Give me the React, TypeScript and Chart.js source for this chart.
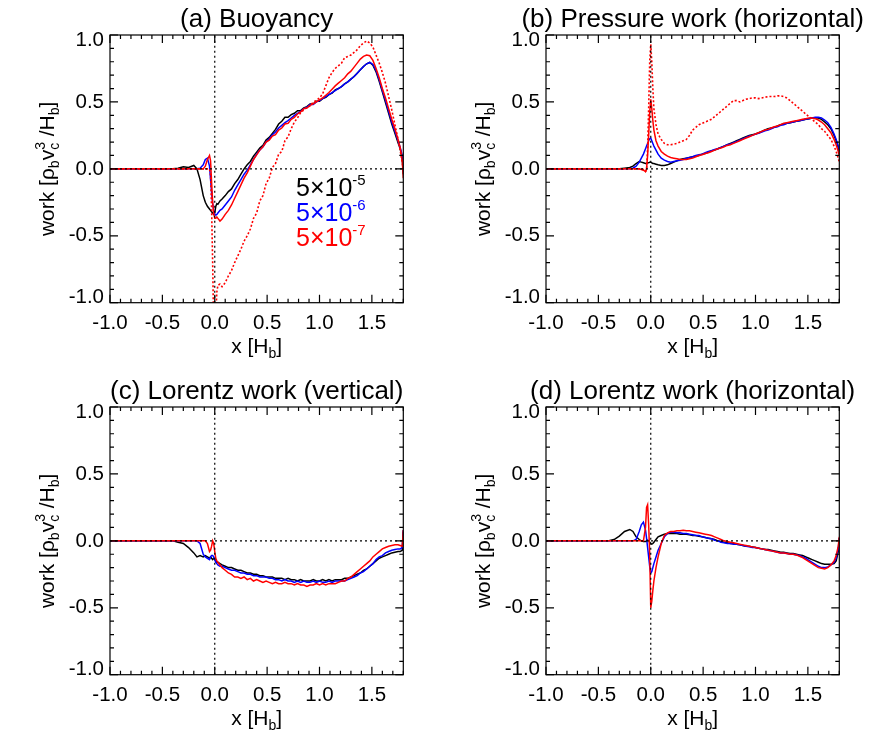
import { useEffect, useRef } from "react"
import { Chart, registerables } from "chart.js"

Chart.register(...registerables)

const FONT = '"Liberation Sans", Arial, Helvetica, sans-serif'

// x positions [H_b] shared by every curve (finer around the x = 0 features)
const xGrid = [
  -1.0, -0.5, -0.4, -0.35, -0.3, -0.25, -0.2,
  -0.17, -0.14, -0.11, -0.09, -0.07, -0.05, -0.04, -0.03, -0.02, -0.01, 0.0,
  0.01, 0.02, 0.03, 0.05, 0.07, 0.1, 0.13, 0.16, 0.19, 0.22, 0.25, 0.28,
  0.31, 0.34, 0.37, 0.4, 0.43, 0.46, 0.49, 0.52, 0.55, 0.58, 0.61, 0.64, 0.67, 0.7,
  0.73, 0.76, 0.79, 0.82, 0.85, 0.88, 0.91, 0.94, 0.97, 1.0, 1.03, 1.06, 1.09, 1.12, 1.15,
  1.18, 1.21, 1.24, 1.27, 1.3, 1.33, 1.36, 1.39, 1.42, 1.45, 1.48, 1.51, 1.54, 1.57, 1.6,
  1.63, 1.66, 1.69, 1.72, 1.75, 1.77, 1.79, 1.8,
]

const xMajor = [-1.0, -0.5, 0.0, 0.5, 1.0, 1.5]
const yMajor = [-1.0, -0.5, 0.0, 0.5, 1.0]
const refLineX = [-1.0, 1.8]
const refLineY = [-1.0, 1.0]

const titles = [
  "(a) Buoyancy",
  "(b) Pressure work (horizontal)",
  "(c) Lorentz work (vertical)",
  "(d) Lorentz work (horizontal)",
]
const legendMantissa = ["5×10", "5×10", "5×10"]
const legendExponent = ["-5", "-6", "-7"]
const seriesColors = ["#000000", "#0000ff", "#ff0000"]

// (a) buoyancy
const buoyBlack = [
  0, 0, 0, 0.005, 0.015, 0.01, 0.025,
  0.0, -0.08, -0.2, -0.25, -0.28, -0.3, -0.31, -0.32, -0.33, -0.34, -0.33,
  -0.28, -0.26, -0.265, -0.24, -0.225, -0.2, -0.17, -0.15, -0.11, -0.08, -0.04, 0.0,
  0.03, 0.055, 0.095, 0.125, 0.155, 0.175, 0.215, 0.235, 0.265, 0.295, 0.335, 0.355, 0.385, 0.385,
  0.405, 0.415, 0.435, 0.435, 0.455, 0.465, 0.485, 0.485, 0.505, 0.505, 0.525, 0.535, 0.555, 0.565, 0.59,
  0.6, 0.615, 0.635, 0.65, 0.67, 0.69, 0.715, 0.74, 0.765, 0.785, 0.795, 0.775, 0.725, 0.655, 0.575,
  0.495, 0.415, 0.335, 0.265, 0.195, 0.15, 0.08, -0.04,
]
const buoyBlue = [
  0, 0, 0, 0, 0, 0, 0,
  0, 0.005, 0.03, 0.07, 0.08, 0.02, -0.08, -0.18, -0.26, -0.31, -0.34,
  -0.345, -0.34, -0.33, -0.31, -0.3, -0.27, -0.24, -0.21, -0.16, -0.12, -0.08, -0.04,
  -0.01, 0.03, 0.07, 0.11, 0.14, 0.165, 0.2, 0.225, 0.255, 0.275, 0.305, 0.325, 0.345, 0.36,
  0.38, 0.4, 0.415, 0.43, 0.45, 0.46, 0.48, 0.48, 0.5, 0.51, 0.525, 0.54, 0.555, 0.57, 0.585,
  0.6, 0.615, 0.635, 0.65, 0.67, 0.69, 0.715, 0.74, 0.765, 0.785, 0.795, 0.78, 0.735, 0.665, 0.585,
  0.51, 0.43, 0.35, 0.28, 0.21, 0.16, 0.1, -0.02,
]
const buoyRed = [
  0, 0, 0, 0, 0, 0, 0,
  0, 0, 0, 0.02, 0.07, 0.1, 0.06, -0.1, -0.25, -0.33, -0.37,
  -0.37, -0.36, -0.37, -0.39, -0.375, -0.34, -0.31, -0.27, -0.22, -0.17, -0.12, -0.07,
  -0.03, 0.02, 0.07, 0.105, 0.14, 0.165, 0.2, 0.215, 0.245, 0.255, 0.29, 0.305, 0.335, 0.34,
  0.37, 0.385, 0.41, 0.425, 0.45, 0.455, 0.475, 0.485, 0.5, 0.515, 0.53, 0.55, 0.57, 0.595, 0.62,
  0.64, 0.66, 0.68, 0.71, 0.73, 0.76, 0.79, 0.82, 0.84, 0.85, 0.845, 0.81, 0.75, 0.68, 0.6,
  0.53, 0.45, 0.37, 0.3, 0.22, 0.16, 0.06, -0.07,
]
const buoyRedDot = [
  0, 0, 0, 0, 0, 0, 0,
  0, 0, 0, 0, 0, 0, -0.05, -0.3, -0.7, -1.2, -1.3,
  -1.1, -0.92, -0.87, -0.86, -0.88, -0.85, -0.8, -0.76, -0.7, -0.65, -0.6, -0.54,
  -0.5, -0.45, -0.37, -0.33, -0.24, -0.2, -0.11, -0.07, 0.01, 0.04, 0.11, 0.13, 0.21, 0.24,
  0.3, 0.35, 0.38, 0.42, 0.44, 0.46, 0.47, 0.5, 0.51, 0.53, 0.56, 0.62, 0.68, 0.72, 0.75,
  0.77, 0.79, 0.83, 0.84, 0.85, 0.87, 0.89, 0.92, 0.94, 0.955, 0.94, 0.91, 0.85, 0.79, 0.72,
  0.64, 0.54, 0.44, 0.33, 0.22, 0.14, 0.05, -0.02,
]

// (b) pressure work (horizontal)
const presBlack = [
  0, 0, 0, 0, 0, 0.005, 0.01,
  0.02, 0.04, 0.055, 0.05, 0.045, 0.04, 0.04, 0.045, 0.045, 0.05, 0.05,
  0.045, 0.04, 0.04, 0.035, 0.03, 0.025, 0.025, 0.03, 0.04, 0.05, 0.06, 0.07,
  0.075, 0.08, 0.085, 0.09, 0.095, 0.1, 0.11, 0.115, 0.125, 0.135, 0.14, 0.15, 0.16, 0.17,
  0.18, 0.19, 0.2, 0.21, 0.22, 0.23, 0.24, 0.25, 0.255, 0.26, 0.27, 0.28, 0.29, 0.3, 0.305,
  0.31, 0.32, 0.33, 0.335, 0.34, 0.345, 0.35, 0.355, 0.36, 0.365, 0.37, 0.375, 0.38, 0.38, 0.38,
  0.37, 0.35, 0.33, 0.3, 0.25, 0.21, 0.16, 0.13,
]
const presBlue = [
  0, 0, 0, 0, 0, 0, 0,
  0.005, 0.02, 0.05, 0.08, 0.11, 0.15, 0.17, 0.19, 0.21, 0.225, 0.23,
  0.21, 0.19, 0.17, 0.14, 0.11, 0.08, 0.065, 0.055, 0.05, 0.055, 0.06, 0.065,
  0.07, 0.08, 0.085, 0.09, 0.1, 0.105, 0.11, 0.12, 0.13, 0.135, 0.145, 0.15, 0.16, 0.17,
  0.18, 0.185, 0.195, 0.205, 0.215, 0.225, 0.235, 0.245, 0.25, 0.26, 0.265, 0.275, 0.285, 0.29, 0.3,
  0.31, 0.315, 0.325, 0.33, 0.34, 0.345, 0.35, 0.355, 0.36, 0.365, 0.37, 0.375, 0.38, 0.385, 0.385,
  0.38, 0.365, 0.345, 0.31, 0.26, 0.22, 0.17, 0.14,
]
const presRed = [
  0, 0, 0, 0, 0, 0, 0,
  0, 0, 0, -0.005, -0.01, -0.02, 0.0, 0.1, 0.25, 0.42, 0.52,
  0.45, 0.36, 0.29, 0.21, 0.17, 0.13, 0.11, 0.095, 0.085, 0.08, 0.075, 0.07,
  0.07, 0.07, 0.075, 0.08, 0.09, 0.1, 0.105, 0.115, 0.12, 0.13, 0.14, 0.15, 0.155, 0.165,
  0.175, 0.18, 0.19, 0.2, 0.21, 0.22, 0.23, 0.24, 0.25, 0.26, 0.27, 0.28, 0.29, 0.295, 0.305,
  0.315, 0.32, 0.33, 0.34, 0.345, 0.35, 0.355, 0.36, 0.365, 0.37, 0.375, 0.38, 0.38, 0.375, 0.365,
  0.35, 0.33, 0.3, 0.27, 0.22, 0.18, 0.13, 0.1,
]
const presRedDot = [
  0, 0, 0, 0, 0, 0, 0,
  0, 0, 0, 0, -0.005, -0.02, -0.01, 0.15, 0.45, 0.8, 0.93,
  0.8, 0.6, 0.45, 0.33, 0.26, 0.22, 0.19, 0.18, 0.18, 0.185, 0.19, 0.2,
  0.21, 0.22, 0.25, 0.29, 0.31, 0.33, 0.34, 0.35, 0.36, 0.37, 0.39, 0.41, 0.43, 0.45,
  0.47, 0.49, 0.51, 0.51, 0.5, 0.51, 0.52, 0.525, 0.53, 0.53, 0.525, 0.53, 0.535, 0.54, 0.54,
  0.54, 0.545, 0.545, 0.54, 0.53, 0.51, 0.49, 0.47, 0.45, 0.43, 0.41, 0.39, 0.37, 0.35, 0.33,
  0.3, 0.28, 0.25, 0.22, 0.17, 0.13, 0.08, 0.05,
]

// (c) Lorentz work (vertical)
const lorVBlack = [
  0, 0, 0, -0.01, -0.02, -0.05, -0.09,
  -0.12, -0.11, -0.12, -0.11, -0.12, -0.13, -0.12, -0.13, -0.14, -0.13, -0.14,
  -0.15, -0.16, -0.16, -0.17, -0.18, -0.19, -0.2, -0.2, -0.21, -0.22, -0.22, -0.23,
  -0.24, -0.24, -0.25, -0.25, -0.26, -0.26, -0.27, -0.27, -0.27, -0.28, -0.28, -0.28, -0.29, -0.28,
  -0.29, -0.29, -0.3, -0.29, -0.3, -0.3, -0.3, -0.29, -0.3, -0.3, -0.29, -0.3, -0.29, -0.3, -0.29,
  -0.29, -0.29, -0.28, -0.28, -0.27, -0.26, -0.25, -0.24, -0.22, -0.21, -0.19, -0.17, -0.15, -0.13, -0.12,
  -0.11, -0.1, -0.09, -0.085, -0.08, -0.08, -0.07, 0.07,
]
const lorVBlue = [
  0, 0, 0, 0, 0, 0, 0,
  0, -0.02, -0.1, -0.12, -0.13, -0.14, -0.12, -0.11, -0.11, -0.12, -0.14,
  -0.16, -0.17, -0.18, -0.19, -0.19, -0.2, -0.21, -0.22, -0.22, -0.23, -0.24, -0.24,
  -0.25, -0.25, -0.26, -0.26, -0.27, -0.27, -0.27, -0.28, -0.28, -0.29, -0.29, -0.3, -0.29, -0.3,
  -0.3, -0.31, -0.3, -0.31, -0.3, -0.31, -0.31, -0.3, -0.31, -0.3, -0.31, -0.31, -0.3, -0.31, -0.3,
  -0.3, -0.3, -0.3, -0.29, -0.28, -0.27, -0.26, -0.24, -0.23, -0.21, -0.19, -0.17, -0.14, -0.12, -0.11,
  -0.09, -0.08, -0.07, -0.065, -0.06, -0.06, -0.05, 0.08,
]
const lorVRed = [
  0, 0, 0, 0, 0, 0, 0,
  0, 0, 0, 0, -0.02, -0.08, -0.07, -0.04, 0.0, -0.02, -0.08,
  -0.13, -0.15, -0.16, -0.18, -0.2, -0.22, -0.24, -0.25, -0.27, -0.27, -0.28, -0.27,
  -0.29, -0.28, -0.3, -0.29, -0.3, -0.31, -0.3, -0.31, -0.32, -0.31, -0.32, -0.32, -0.31, -0.32,
  -0.32, -0.33, -0.32, -0.33, -0.33, -0.34, -0.33, -0.33, -0.32, -0.33, -0.32, -0.33, -0.32, -0.32, -0.32,
  -0.31, -0.3, -0.3, -0.28, -0.27, -0.25, -0.23, -0.21, -0.19, -0.17, -0.15, -0.12, -0.1, -0.08, -0.06,
  -0.05, -0.04, -0.035, -0.03, -0.03, -0.035, -0.04, 0.08,
]

// (d) Lorentz work (horizontal)
const lorHBlack = [
  0, 0, 0, 0.01, 0.035, 0.07, 0.085,
  0.07, 0.03, 0.01, 0.0, -0.005, -0.005, 0.0, 0.005, 0.0, -0.01, -0.02,
  -0.025, -0.02, -0.01, 0.01, 0.03, 0.04, 0.05, 0.055, 0.055, 0.055, 0.055, 0.05,
  0.05, 0.05, 0.045, 0.04, 0.04, 0.035, 0.03, 0.025, 0.02, 0.015, 0.01, 0.0, -0.005, -0.01,
  -0.015, -0.02, -0.02, -0.025, -0.03, -0.035, -0.04, -0.04, -0.045, -0.05, -0.055, -0.06, -0.065, -0.065, -0.07,
  -0.075, -0.08, -0.085, -0.085, -0.09, -0.095, -0.095, -0.1, -0.105, -0.11, -0.12, -0.13, -0.14, -0.15, -0.16,
  -0.17, -0.175, -0.175, -0.175, -0.17, -0.15, -0.08, 0.02,
]
const lorHBlue = [
  0, 0, 0, 0, 0, 0, 0,
  0, 0.01, 0.07, 0.12, 0.14, 0.08, 0.02, -0.05, -0.12, -0.19, -0.24,
  -0.23, -0.2, -0.17, -0.12, -0.07, -0.02, 0.03, 0.055, 0.065, 0.065, 0.06, 0.06,
  0.055, 0.055, 0.05, 0.045, 0.04, 0.04, 0.03, 0.025, 0.02, 0.015, 0.005, 0.0, -0.01, -0.015,
  -0.02, -0.02, -0.025, -0.025, -0.03, -0.035, -0.04, -0.045, -0.05, -0.05, -0.055, -0.06, -0.065, -0.07, -0.075,
  -0.08, -0.085, -0.09, -0.09, -0.095, -0.1, -0.1, -0.105, -0.11, -0.12, -0.13, -0.145, -0.16, -0.175, -0.19,
  -0.2, -0.2, -0.195, -0.18, -0.16, -0.13, -0.06, 0.02,
]
const lorHRed = [
  0, 0, 0, 0, 0, 0, 0,
  0, 0, 0, 0, 0.0, 0.1, 0.25, 0.27, 0.12, -0.1, -0.5,
  -0.45, -0.37, -0.3, -0.2, -0.12, -0.02, 0.04, 0.06, 0.07, 0.07, 0.075, 0.075,
  0.08, 0.075, 0.075, 0.07, 0.065, 0.06, 0.055, 0.05, 0.045, 0.04, 0.03, 0.02, 0.01, 0.0,
  -0.005, -0.01, -0.015, -0.02, -0.025, -0.03, -0.035, -0.04, -0.045, -0.05, -0.055, -0.06, -0.065, -0.07, -0.075,
  -0.08, -0.085, -0.09, -0.09, -0.095, -0.1, -0.1, -0.105, -0.115, -0.125, -0.14, -0.155, -0.17, -0.185, -0.2,
  -0.205, -0.21, -0.2, -0.18, -0.15, -0.11, -0.04, 0.03,
]

const panels = [
  { solid: [buoyBlack, buoyBlue, buoyRed], dotted: buoyRedDot },
  { solid: [presBlack, presBlue, presRed], dotted: presRedDot },
  { solid: [lorVBlack, lorVBlue, lorVRed], dotted: null },
  { solid: [lorHBlack, lorHBlue, lorHRed], dotted: null },
]

type Run = { text: string; size: number; dy: number; stack?: boolean }

const xTitleRuns: Run[] = [
  { text: "x [H", size: 21, dy: 0 },
  { text: "b", size: 14, dy: 5 },
  { text: "]", size: 21, dy: 0 },
]
const yTitleRuns: Run[] = [
  { text: "work [ρ", size: 21, dy: 0 },
  { text: "b", size: 14, dy: 5 },
  { text: "v", size: 21, dy: 0 },
  { text: "c", size: 14, dy: 5 },
  { text: "3", size: 14, dy: -9, stack: true },
  { text: " /H", size: 21, dy: 0 },
  { text: "b", size: 14, dy: 5 },
  { text: "]", size: 21, dy: 0 },
]

// draws text with sub/superscripts; "stack" puts a run above the previous one
function drawRuns(ctx: CanvasRenderingContext2D, runs: Run[], x: number, y: number, align: "left" | "center") {
  let cursor = 0
  let prevStart = 0
  const placed = runs.map((r) => {
    ctx.font = `${r.size}px ${FONT}`
    const w = ctx.measureText(r.text).width
    const start = r.stack ? prevStart : cursor
    prevStart = start
    cursor = Math.max(cursor, start + w)
    return { ...r, start }
  })
  const x0 = align === "center" ? x - cursor / 2 : x
  ctx.textAlign = "left"
  ctx.textBaseline = "alphabetic"
  placed.forEach((r) => {
    ctx.font = `${r.size}px ${FONT}`
    ctx.fillText(r.text, x0 + r.start, y + r.dy)
  })
}

function framePlugin(idx: number) {
  return {
    id: "idlFrame",
    afterDraw(chart: any) {
      const { ctx, chartArea: a, scales } = chart
      const xs = scales.x
      const ys = scales.y
      ctx.save()
      ctx.strokeStyle = "#000"
      ctx.lineWidth = 1.2
      ctx.strokeRect(a.left, a.top, a.right - a.left, a.bottom - a.top)
      ctx.beginPath()
      for (let i = -10; i <= 18; i++) {
        const px = xs.getPixelForValue(i / 10)
        const len = i % 5 === 0 ? 8 : 4
        ctx.moveTo(px, a.bottom)
        ctx.lineTo(px, a.bottom - len)
        ctx.moveTo(px, a.top)
        ctx.lineTo(px, a.top + len)
      }
      for (let i = -10; i <= 10; i++) {
        const py = ys.getPixelForValue(i / 10)
        const len = i % 5 === 0 ? 8 : 4
        ctx.moveTo(a.left, py)
        ctx.lineTo(a.left + len, py)
        ctx.moveTo(a.right, py)
        ctx.lineTo(a.right - len, py)
      }
      ctx.stroke()

      ctx.fillStyle = "#000"
      ctx.font = `20.5px ${FONT}`
      ctx.textAlign = "right"
      ctx.textBaseline = "middle"
      yMajor.forEach((v, i) => {
        let py = ys.getPixelForValue(v)
        if (i === 0) py -= 5
        if (i === yMajor.length - 1) py += 5
        ctx.fillText(v.toFixed(1), a.left - 6, py)
      })

      ctx.textAlign = "center"
      ctx.textBaseline = "alphabetic"
      ctx.font = `26px ${FONT}`
      ctx.fillText(titles[idx], (a.left + a.right) / 2, a.top - 8)

      drawRuns(ctx, xTitleRuns, (a.left + a.right) / 2, a.bottom + 50.5, "center")

      if (idx === 0) {
        legendMantissa.forEach((m, i) => {
          ctx.fillStyle = seriesColors[i]
          drawRuns(
            ctx,
            [
              { text: m, size: 25, dy: 0 },
              { text: legendExponent[i], size: 15, dy: -11 },
            ],
            a.left + 186,
            a.top + 161 + i * 25,
            "left"
          )
        })
        ctx.fillStyle = "#000"
      }

      ctx.translate(a.left - 56.5, (a.top + a.bottom) / 2)
      ctx.rotate(-Math.PI / 2)
      drawRuns(ctx, yTitleRuns, 0, 0, "center")
      ctx.restore()
    },
  }
}

const pts = (ys: number[]) => xGrid.map((x, i) => ({ x, y: ys[i] }))

function buildConfig(idx: number): any {
  const p = panels[idx]
  const datasets: any[] = [
    { data: refLineX.map((x) => ({ x, y: 0 })), borderColor: "#000", borderWidth: 1.2, borderDash: [2, 3] },
    { data: refLineY.map((y) => ({ x: 0, y })), borderColor: "#000", borderWidth: 1.2, borderDash: [2, 3] },
    { data: pts(p.solid[2]), borderColor: seriesColors[2], borderWidth: 1.5 },
  ]
  if (p.dotted) {
    datasets.push({ data: pts(p.dotted), borderColor: seriesColors[2], borderWidth: 1.6, borderDash: [2, 2] })
  }
  datasets.push({ data: pts(p.solid[1]), borderColor: seriesColors[1], borderWidth: 1.5 })
  datasets.push({ data: pts(p.solid[0]), borderColor: seriesColors[0], borderWidth: 1.5 })

  return {
    type: "line",
    data: { datasets },
    options: {
      animation: false,
      responsive: false,
      events: [],
      layout: { padding: { left: 0, top: 35, right: 32.7, bottom: 0 } },
      elements: { point: { radius: 0 }, line: { tension: 0, fill: false } },
      plugins: { legend: { display: false }, tooltip: { enabled: false } },
      scales: {
        x: {
          type: "linear",
          min: -1.0,
          max: 1.8,
          grid: { display: false, drawTicks: false },
          border: { display: false },
          afterBuildTicks: (s: any) => {
            s.ticks = xMajor.map((v) => ({ value: v }))
          },
          afterFit: (s: any) => {
            s.height = 69.3
          },
          ticks: {
            color: "#000",
            font: { family: FONT, size: 20.5, lineHeight: 1 },
            padding: 10,
            maxRotation: 0,
            autoSkip: false,
            callback: (v: any) => Number(v).toFixed(1),
          },
        },
        y: {
          type: "linear",
          min: -1.0,
          max: 1.0,
          grid: { display: false, drawTicks: false },
          border: { display: false },
          ticks: { display: false },
          afterFit: (s: any) => {
            s.width = 110
          },
        },
      },
    },
    plugins: [framePlugin(idx)],
  }
}

function Panel({ idx, left, top }: { idx: number; left: number; top: number }) {
  const canvasRef = useRef<HTMLCanvasElement | null>(null)

  useEffect(() => {
    if (!canvasRef.current) return
    const chart = new Chart(canvasRef.current, buildConfig(idx))
    return () => {
      chart.destroy()
    }
  }, [idx])

  return (
    <canvas
      ref={canvasRef}
      width={436}
      height={372}
      style={{ position: "absolute", left, top, width: 436, height: 372 }}
    />
  )
}

export default function App() {
  return (
    <div style={{ position: "absolute", left: 0, top: 0, width: 872, height: 747, background: "#fff" }}>
      <Panel idx={0} left={0} top={0} />
      <Panel idx={1} left={436} top={0} />
      <Panel idx={2} left={0} top={372} />
      <Panel idx={3} left={436} top={372} />
    </div>
  )
}
